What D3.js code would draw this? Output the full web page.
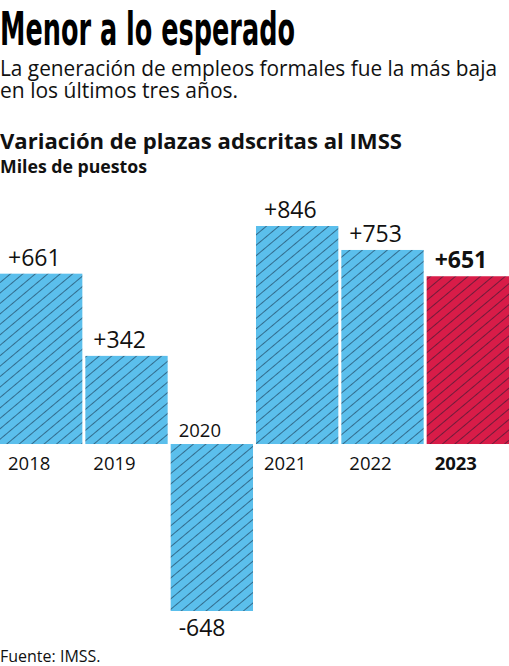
<!DOCTYPE html>
<html><head><meta charset="utf-8">
<script src="https://cdn.jsdelivr.net/npm/d3@7"></script>
<style>
html,body{margin:0;padding:0;background:#fff;}
svg{display:block;}
</style></head>
<body>
<svg id="c" width="509" height="666"></svg>
<script>
const years = ["2018","2019","2020","2021","2022","2023"];
const values = [661, 342, -648, 846, 753, 651];
const labels = ["+661","+342","-648","+846","+753","+651"];
const highlight = ["2023"];

const svg = d3.select("#c");
const W = 509;
const blue = "#5bbfec", red = "#d81c48";

const defs = svg.append("defs");
function hatch(id, color){
  const s = 8;
  const p = defs.append("pattern").attr("id", id).attr("patternUnits","userSpaceOnUse")
    .attr("width", s).attr("height", s).attr("patternTransform","rotate(-40)");
  p.append("rect").attr("width",s).attr("height",s).attr("fill",color);
  p.append("line").attr("x1",0).attr("y1",0.5).attr("x2",s).attr("y2",0.5)
    .attr("stroke","rgba(10,25,45,0.5)").attr("stroke-width",1);
}
hatch("hb", blue); hatch("hr", red);

const x = d3.scaleBand().domain(years).range([0, W]).paddingInner(0.035).paddingOuter(0);
const y = d3.scaleLinear().domain([-648, 846]).range([611, 226]);

const sans = "'Open Sans', sans-serif";

// Titles
svg.append("text").attr("x",0).attr("y",45).attr("font-family","'Liberation Sans Narrow','DejaVu Sans Condensed',sans-serif")
  .attr("font-weight","bold").attr("font-size",47).attr("textLength",295).attr("lengthAdjust","spacingAndGlyphs")
  .attr("fill","#000").text("Menor a lo esperado");
svg.append("text").attr("x",0).attr("y",76).attr("font-family",sans).attr("font-size",21).attr("fill","#111")
  .attr("textLength",497).attr("lengthAdjust","spacingAndGlyphs")
  .text("La generación de empleos formales fue la más baja");
svg.append("text").attr("x",0).attr("y",98).attr("font-family",sans).attr("font-size",21).attr("fill","#111")
  .text("en los últimos tres años.");
svg.append("text").attr("x",0).attr("y",149).attr("font-family",sans).attr("font-weight","bold").attr("font-size",21.5)
  .attr("fill","#111").attr("textLength",402).attr("lengthAdjust","spacingAndGlyphs")
  .text("Variación de plazas adscritas al IMSS");
svg.append("text").attr("x",0).attr("y",173).attr("font-family",sans).attr("font-weight","bold").attr("font-size",17.5)
  .attr("fill","#111").attr("textLength",147).attr("lengthAdjust","spacingAndGlyphs").text("Miles de puestos");
svg.append("text").attr("x",0).attr("y",662).attr("font-family",sans).attr("font-size",16)
  .attr("fill","#111").text("Fuente: IMSS.");

const data = years.map((yr,i)=>({yr, v:values[i], lab:labels[i], hi: highlight.includes(yr)}));

const g = svg.append("g");
g.selectAll("rect.bar").data(data).join("rect").attr("class","bar")
  .attr("x", d=>x(d.yr)).attr("width", x.bandwidth())
  .attr("y", d=>y(Math.max(0,d.v))).attr("height", d=>Math.abs(y(d.v)-y(0)))
  .attr("fill", d=>d.hi ? "url(#hr)" : "url(#hb)");

// value labels
g.selectAll("text.val").data(data).join("text").attr("class","val")
  .attr("x", d=>x(d.yr)+8)
  .attr("y", d=> d.v>=0 ? y(d.v)-8 : y(d.v)+25)
  .attr("font-family", sans).attr("font-size", 23)
  .attr("font-weight", d=>d.hi ? "bold" : "normal")
  .attr("fill","#111").text(d=>d.lab);

// year labels
g.selectAll("text.yr").data(data).join("text").attr("class","yr")
  .attr("x", d=>x(d.yr)+8)
  .attr("y", d=> d.v>=0 ? y(0)+26 : y(0)-7)
  .attr("font-family", sans).attr("font-size", 18.5)
  .attr("font-weight", d=>d.hi ? "bold" : "normal")
  .attr("fill","#111").text(d=>d.yr);
</script>
</body></html>
